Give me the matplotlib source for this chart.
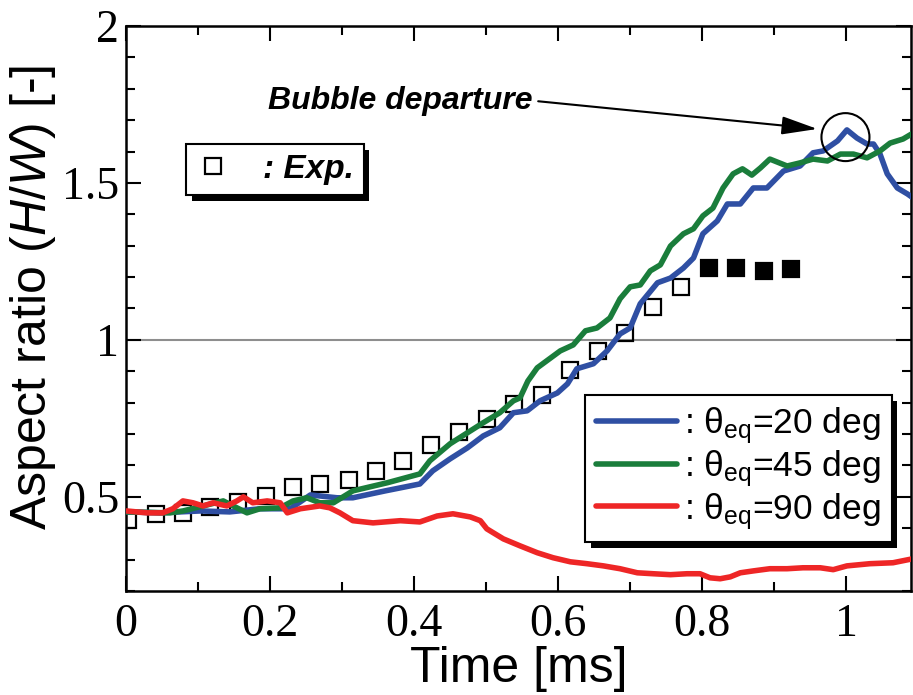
import matplotlib
matplotlib.use("Agg")
import matplotlib.pyplot as plt
import matplotlib.patheffects as pe
from matplotlib import font_manager
from matplotlib.lines import Line2D
from matplotlib.patches import Ellipse
from matplotlib.ticker import MultipleLocator, FixedLocator, FixedFormatter

# ---- fonts -------------------------------------------------------------
installed = {f.name for f in font_manager.fontManager.ttflist}
NARROW = next((n for n in ["Liberation Sans Narrow", "Arial Narrow", "Nimbus Sans Narrow"]
               if n in installed), "Liberation Sans")
SERIF = "Liberation Serif"
BOLDSANS = "Liberation Sans"

plt.rcParams["mathtext.fontset"] = "custom"
plt.rcParams["mathtext.rm"] = NARROW
plt.rcParams["mathtext.it"] = NARROW + ":italic"
plt.rcParams["mathtext.bf"] = NARROW + ":bold"

# ---- data --------------------------------------------------------------
# experiment (open squares: attached bubble, filled squares: after departure)
exp_time = [0.003, 0.041, 0.079, 0.117, 0.156, 0.194, 0.232, 0.270, 0.309, 0.347,
            0.385, 0.424, 0.462, 0.501, 0.539, 0.578, 0.616, 0.655, 0.693, 0.732, 0.770]
exp_ratio = [0.427, 0.445, 0.448, 0.468, 0.484, 0.503, 0.530, 0.540, 0.553, 0.583,
             0.615, 0.666, 0.708, 0.747, 0.797, 0.825, 0.903, 0.965, 1.023, 1.105, 1.170]
exp_after_time = [0.809, 0.847, 0.886, 0.924]
exp_after_ratio = [1.228, 1.228, 1.218, 1.226]

# simulation, contact angle 20 deg
t20 = [0.001, 0.047, 0.103, 0.144, 0.186, 0.228, 0.256, 0.293, 0.315, 0.360, 0.408,
       0.426, 0.450, 0.474, 0.496, 0.519, 0.538, 0.557, 0.575, 0.599, 0.613, 0.626,
       0.649, 0.668, 0.686, 0.700, 0.714, 0.738, 0.756, 0.774, 0.788, 0.801, 0.821,
       0.835, 0.853, 0.871, 0.890, 0.913, 0.936, 0.954, 0.968, 0.988, 1.001, 1.015,
       1.029, 1.038, 1.047, 1.057, 1.071, 1.085, 1.093]
r20 = [0.452, 0.449, 0.455, 0.452, 0.462, 0.462, 0.506, 0.497, 0.497, 0.519, 0.541,
       0.583, 0.621, 0.656, 0.694, 0.720, 0.768, 0.774, 0.806, 0.831, 0.860, 0.908,
       0.924, 0.965, 1.019, 1.038, 1.115, 1.182, 1.197, 1.229, 1.261, 1.338, 1.379,
       1.433, 1.433, 1.484, 1.484, 1.538, 1.554, 1.596, 1.602, 1.634, 1.669, 1.643,
       1.624, 1.624, 1.592, 1.529, 1.484, 1.465, 1.452]

# simulation, contact angle 45 deg
t45 = [0.001, 0.061, 0.079, 0.135, 0.154, 0.168, 0.186, 0.214, 0.232, 0.251, 0.269,
       0.288, 0.315, 0.363, 0.408, 0.422, 0.450, 0.474, 0.496, 0.519, 0.538, 0.547,
       0.558, 0.571, 0.603, 0.621, 0.638, 0.654, 0.672, 0.686, 0.700, 0.714, 0.728,
       0.742, 0.756, 0.774, 0.788, 0.801, 0.815, 0.829, 0.843, 0.856, 0.869, 0.881,
       0.894, 0.918, 0.936, 0.954, 0.974, 0.992, 1.010, 1.029, 1.047, 1.061, 1.079,
       1.093]
r45 = [0.452, 0.449, 0.455, 0.487, 0.465, 0.449, 0.462, 0.465, 0.487, 0.497, 0.481,
       0.481, 0.519, 0.545, 0.573, 0.615, 0.669, 0.704, 0.736, 0.768, 0.806, 0.815,
       0.869, 0.911, 0.965, 0.984, 1.029, 1.038, 1.070, 1.131, 1.169, 1.175, 1.220,
       1.239, 1.299, 1.338, 1.354, 1.395, 1.420, 1.484, 1.529, 1.545, 1.525, 1.548,
       1.576, 1.554, 1.564, 1.576, 1.570, 1.592, 1.592, 1.580, 1.602, 1.627, 1.640,
       1.659]

# simulation, contact angle 90 deg
t90 = [0.001, 0.029, 0.051, 0.065, 0.079, 0.093, 0.107, 0.121, 0.140, 0.154, 0.163,
       0.176, 0.196, 0.214, 0.224, 0.242, 0.269, 0.283, 0.297, 0.315, 0.343, 0.381,
       0.408, 0.432, 0.454, 0.478, 0.492, 0.501, 0.524, 0.547, 0.571, 0.593, 0.617,
       0.640, 0.663, 0.686, 0.710, 0.732, 0.756, 0.779, 0.797, 0.811, 0.825, 0.839,
       0.853, 0.871, 0.894, 0.918, 0.940, 0.964, 0.982, 1.001, 1.033, 1.065, 1.093]
r90 = [0.455, 0.449, 0.449, 0.462, 0.487, 0.481, 0.471, 0.481, 0.471, 0.487, 0.500,
       0.481, 0.487, 0.481, 0.449, 0.462, 0.471, 0.465, 0.449, 0.424, 0.417, 0.424,
       0.420, 0.439, 0.446, 0.436, 0.424, 0.398, 0.366, 0.344, 0.322, 0.306, 0.293,
       0.287, 0.280, 0.271, 0.258, 0.255, 0.252, 0.255, 0.255, 0.242, 0.239, 0.245,
       0.258, 0.264, 0.271, 0.271, 0.274, 0.274, 0.268, 0.280, 0.287, 0.290, 0.303]

departure_time = 0.999
departure_ratio = 1.646

x_ticks = [0, 0.2, 0.4, 0.6, 0.8, 1.0]
x_labels = ["0", "0.2", "0.4", "0.6", "0.8", "1"]
y_ticks = [0.5, 1.0, 1.5, 2.0]
y_labels = ["0.5", "1", "1.5", "2"]

series_labels = [r": θ$_{\mathrm{eq}}$=20 deg",
                 r": θ$_{\mathrm{eq}}$=45 deg",
                 r": θ$_{\mathrm{eq}}$=90 deg"]
colors = ["#2f4fa3", "#1a7d3b", "#ee2626"]

# ---- figure ------------------------------------------------------------
W, H = 913, 695
fig = plt.figure(figsize=(W / 100, H / 100), dpi=100)
ax = fig.add_axes([126 / W, 1 - 591 / H, 785 / W, 565 / H])

ax.axhline(1.0, color="#8e8e8e", lw=1.5, zorder=1)

ax.plot(exp_time, exp_ratio, ls="none", marker="s", ms=11, mfc="none",
        mec="black", mew=1.6, zorder=2)
ax.plot(exp_after_time, exp_after_ratio, ls="none", marker="s", ms=11, mfc="black",
        mec="black", mew=1.6, zorder=2)

handles = []
for t, r, c in zip([t20, t45, t90], [r20, r45, r90], colors):
    (ln,) = ax.plot(t, r, color=c, lw=4.0, solid_capstyle="round",
                    solid_joinstyle="round", zorder=3)
    handles.append(ln)

# departure marker
ax.add_patch(Ellipse((departure_time, departure_ratio), width=48 / 720, height=48 / 314,
                     fill=False, ec="black", lw=1.5, zorder=4))
ax.annotate("Bubble departure", xy=(0.960, 1.672), xytext=(0.381, 1.762),
            ha="center", va="center", fontsize=23, fontweight="bold",
            fontstyle="italic", family=BOLDSANS,
            arrowprops=dict(arrowstyle="-|>,head_length=1.1,head_width=0.28",
                            mutation_scale=20, color="black", lw=1.5,
                            shrinkA=2, shrinkB=0, relpos=(1.0, 0.5)),
            zorder=5)

# axes styling
ax.set_xlim(0, 1.09)
ax.set_ylim(0.2, 2.0)
ax.xaxis.set_major_locator(FixedLocator(x_ticks))
ax.xaxis.set_major_formatter(FixedFormatter(x_labels))
ax.xaxis.set_minor_locator(MultipleLocator(0.1))
ax.yaxis.set_major_locator(FixedLocator(y_ticks))
ax.yaxis.set_major_formatter(FixedFormatter(y_labels))
ax.yaxis.set_minor_locator(MultipleLocator(0.1))
ax.tick_params(which="both", direction="in", top=True, right=True, width=1.5,
               labelsize=33, colors="black")
ax.tick_params(which="major", length=11)
ax.tick_params(which="minor", length=6.5)
ax.tick_params(axis="x", pad=9)
ax.tick_params(axis="y", pad=5)
for lab in ax.get_xticklabels() + ax.get_yticklabels():
    lab.set_family(SERIF)
for sp in ax.spines.values():
    sp.set_linewidth(1.8)

ax.set_xlabel("Time [ms]", fontsize=36, family=NARROW, labelpad=0)
ax.set_ylabel(r"Aspect ratio ($\mathit{H/W}$) [-]", fontsize=36, family=NARROW)
ax.yaxis.set_label_coords(-0.087, 0.52)

# legends with solid drop shadow
shadow = [pe.SimplePatchShadow(offset=(4, -4), shadow_rgbFace="black", alpha=1.0),
          pe.Normal()]

leg1 = ax.legend(handles, series_labels, loc="upper left",
                 bbox_to_anchor=((585 - 126) / 785, (591 - 395) / 565),
                 borderaxespad=0, frameon=True, fancybox=False, edgecolor="black",
                 framealpha=1, handlelength=2.3, handletextpad=0.2,
                 labelspacing=0.05, borderpad=0.3,
                 prop={"family": NARROW, "size": 25.5})
leg1.get_frame().set_linewidth(1.5)
leg1.get_frame().set_path_effects(shadow)
ax.add_artist(leg1)

exp_handle = Line2D([], [], ls="none", marker="s", ms=11, mfc="none", mec="black", mew=1.6)
leg2 = ax.legend([exp_handle], [": Exp."], loc="upper left",
                 bbox_to_anchor=((186 - 126) / 785, (591 - 144) / 565),
                 borderaxespad=0, frameon=True, fancybox=False, edgecolor="black",
                 framealpha=1, handlelength=1.0, handletextpad=1.0, borderpad=0.3,
                 prop={"family": NARROW, "size": 24, "weight": "bold", "style": "italic"})
leg2.get_frame().set_linewidth(1.5)
leg2.get_frame().set_path_effects(shadow)

fig.savefig("out.png", dpi=100)
